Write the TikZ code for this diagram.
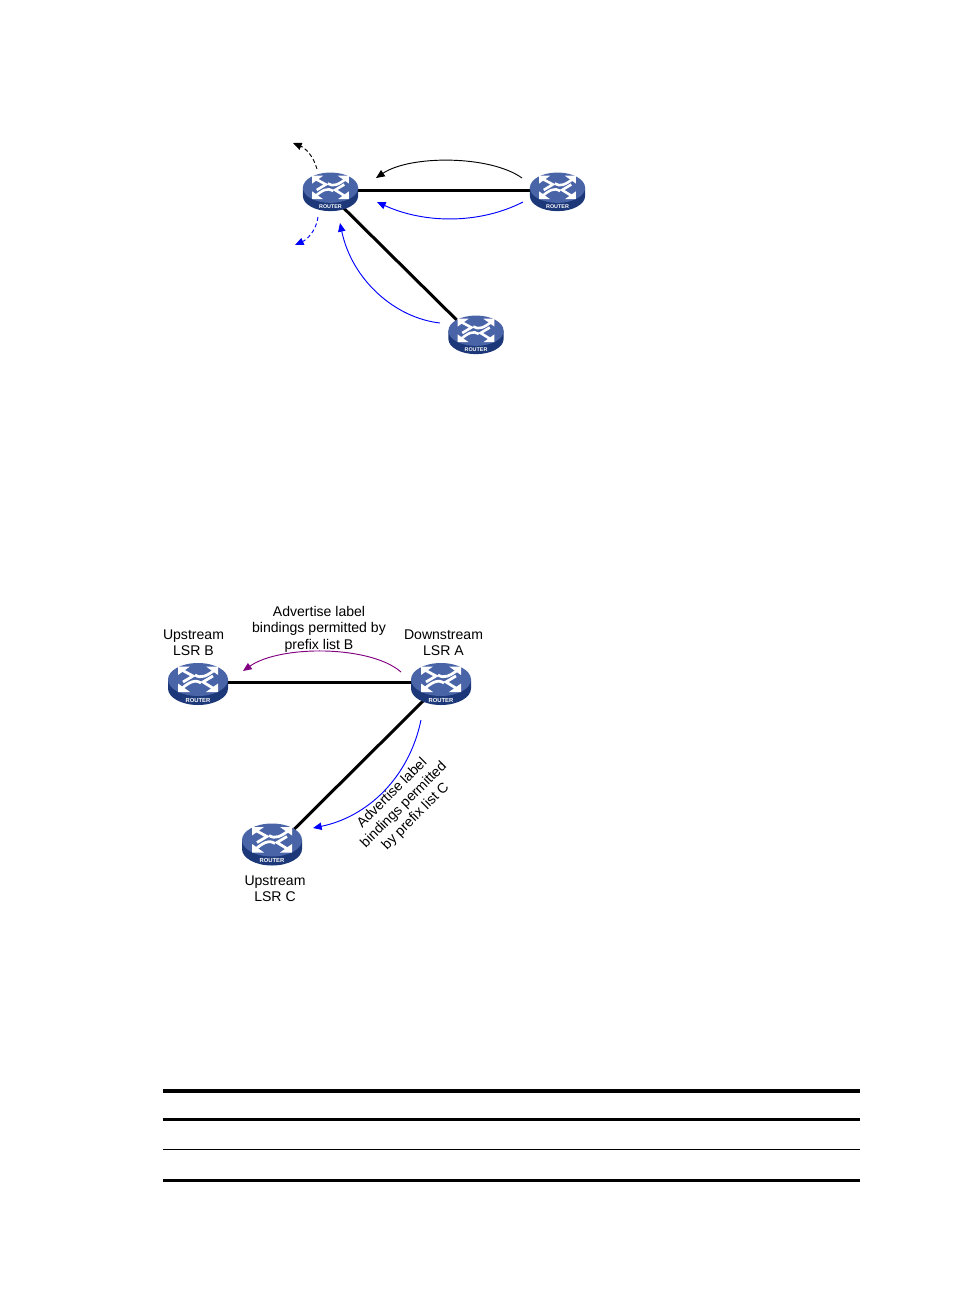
\documentclass[tikz,border=0pt]{standalone}
\usepackage{fontspec}
\setmainfont{Liberation Sans}
\usetikzlibrary{arrows.meta,shapes.geometric}

\definecolor{routertop}{HTML}{4A64A8}
\definecolor{routerside}{HTML}{1C3878}
\definecolor{advpurple}{HTML}{800080}

\tikzset{
    router/.style={ellipse, inner sep=0pt, minimum width=#1*45pt, minimum height=#1*29pt},
    lbl/.style={align=center, inner sep=0pt, font=\fontsize{10.55}{12.4}\selectfont},
    link/.style={line width=2.25pt},
    advert/.style={line width=0.7pt, -{Triangle[length=6.5pt,width=5.5pt]}},
    tablerule/.style={line cap=butt}
}

% one router icon, drawn on top of node #1
\newcommand{\routericon}[2]{
    \begin{scope}[shift={(#1)}, scale=#2]
        \fill[routerside] (-30,-2.5) -- (-30,6.5) arc[start angle=180, end angle=360, x radius=30, y radius=-16.5] -- (30,-2.5) -- cycle;
        \fill[routertop] (0,-2.5) ellipse [x radius=30, y radius=16.5];
        \begin{scope}[line width=#2*2.1pt, draw=white, fill=white]
            \draw (-18,-13) -- (-5,-6) -- (-15,0);
            \draw (18,8) -- (5,0) -- (15,-6);
            \draw (-3,-7) .. controls (3,-3) and (9,-6) .. (18,-13);
            \draw (3,1) .. controls (-3,-3) and (-9,0) .. (-18,8);
            \fill (-20,-15.5) -- (-8,-15.5) -- (-20,-7) -- cycle;
            \fill (20,-15.5) -- (8,-15.5) -- (20,-7) -- cycle;
            \fill (-20,10) -- (-8,10) -- (-20,1.5) -- cycle;
            \fill (20,10) -- (8,10) -- (20,1.5) -- cycle;
        \end{scope}
        \node[transform shape, text=white, inner sep=0pt, font=\fontsize{4.4}{4.4}\selectfont\bfseries] (#1-tag) at (0,18) {ROUTER};
    \end{scope}
}

\begin{document}
\begin{tikzpicture}[x=0.75pt, y=-0.75pt]
    \useasboundingbox (0,0) rectangle (954,1296);

    % Routers, upper picture
    \node[router=0.92] (R1) at (330.5,190) {};
    \node[router=0.92] (R2) at (557.5,190) {};
    \node[router=0.92] (R3) at (476,333) {};

    % Routers, lower picture
    \node[router=1] (LSRA) at (441,682) {};
    \node[router=1] (LSRB) at (198,682) {};
    \node[router=1] (LSRC) at (272,842.5) {};

    % Links
    \draw[link] (R1) -- (R2);
    \draw[link] (R1.-55) -- (R3.146);
    \draw[link] (LSRB) -- (LSRA);
    \draw[link] (LSRA.-133) -- (LSRC.31);

    \foreach \name/\size in {R1/0.92, R2/0.92, R3/0.92, LSRA/1, LSRB/1, LSRC/1} {
        \routericon{\name}{\size}
    }

    % Free ends of the curved arrows
    \coordinate (top-from) at (522,178);
    \coordinate (top-to) at (376,178);
    \coordinate (low-from) at (523,202);
    \coordinate (low-to) at (377,202);
    \coordinate (diag-from) at (440,323);
    \coordinate (diag-to) at (340,223);
    \coordinate (out-from) at (317,169);
    \coordinate (out-to) at (293,143);
    \coordinate (in-from) at (318,217);
    \coordinate (in-to) at (295,245);
    \coordinate (lsrb-from) at (401,672);
    \coordinate (lsrb-to) at (243,671);
    \coordinate (lsrc-from) at (421,720);
    \coordinate (lsrc-to) at (313,828);

    % Curved arrows
    \draw[advert] (top-from) .. controls (490,155) and (410,155) .. (top-to);
    \draw[advert, blue] (low-from) .. controls (480,224) and (425,224) .. (low-to);
    \draw[advert, blue] (diag-from) .. controls (395,318) and (352,280) .. (diag-to);
    \draw[advert, densely dashed] (out-from) .. controls (313,155) and (305,148) .. (out-to);
    \draw[advert, blue, densely dashed] (in-from) .. controls (316,232) and (306,240) .. (in-to);
    \draw[advert, advpurple] (lsrb-from) .. controls (370,645) and (280,645) .. (lsrb-to);
    \draw[advert, blue] (lsrc-from) .. controls (409,778) and (367,817) .. (lsrc-to);

    % Labels
    \node[lbl] (adv-b) at (319,629) {Advertise label\\bindings permitted by\\prefix list B};
    \node[lbl] (name-b) at (193.5,642.5) {Upstream\\LSR B};
    \node[lbl] (name-a) at (443.5,642.5) {Downstream\\LSR A};
    \node[lbl] (name-c) at (275,888.5) {Upstream\\LSR C};
    \node[lbl, rotate=45] (adv-c) at (404,805) {Advertise label\\bindings permitted\\by prefix list C};

    % Table rules
    \foreach \ypos/\weight in {1091/3pt, 1119.5/2.25pt, 1149.5/0.75pt, 1180.5/2.25pt} {
        \draw[tablerule, line width=\weight] (163,\ypos) -- (860,\ypos);
    }
\end{tikzpicture}
\end{document}
